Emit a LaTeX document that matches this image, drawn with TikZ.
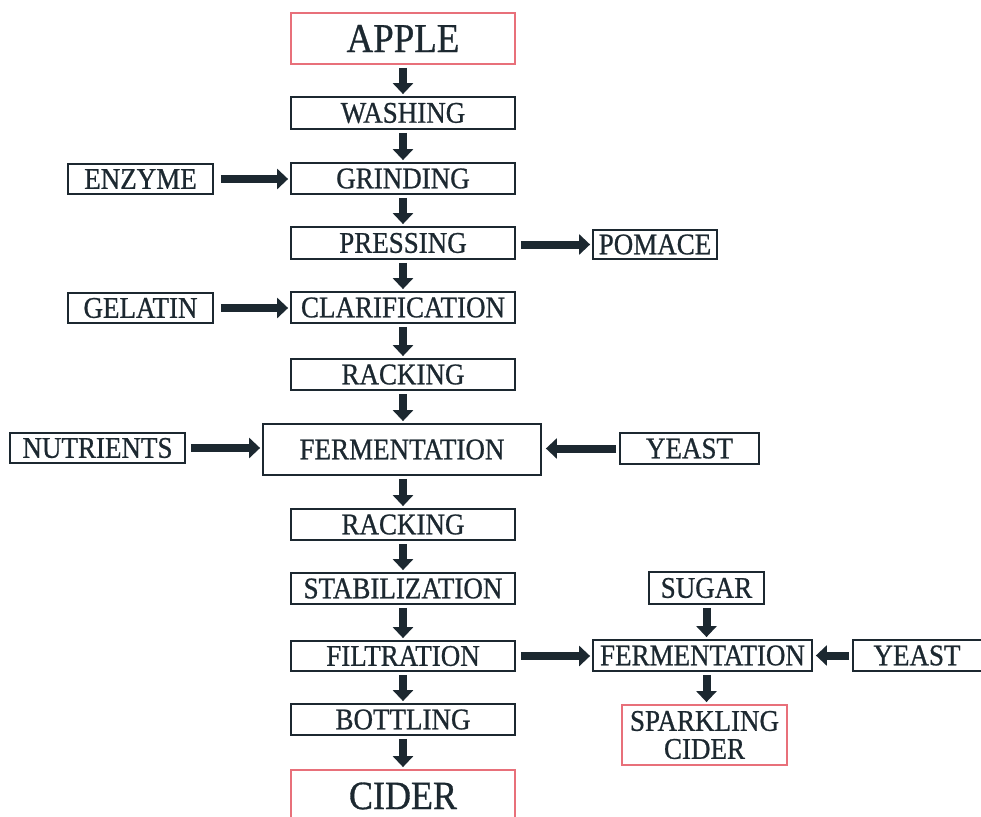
\documentclass[tikz,border=0pt]{standalone}
\usepackage{fontspec}
\setmainfont{Liberation Serif}[FakeStretch=0.9, FakeBold=0.8]
\usetikzlibrary{arrows.meta}
\definecolor{ink}{HTML}{1C2830}
\definecolor{redb}{HTML}{E8707A}
\tikzset{
  box/.style={draw=ink, line width=1.8pt, text=ink, inner sep=0pt, font=\fontsize{30}{32}\selectfont},
  redbox/.style={draw=redb, line width=1.8pt, text=ink, inner sep=0pt},
  arr/.style={draw=ink, line width=8pt, -{Triangle[width=20pt,length=11pt]}, shorten <=3pt, shorten >=2pt},
}
\newcommand{\bx}[6]{\node[#1, minimum width={#4-#2}, minimum height={#5-#3}] (#6) at ({(#2+#4)/2},{(#3+#5)/2})}
\begin{document}
\begin{tikzpicture}[x=1pt,y=-1pt]
\useasboundingbox (0,0) rectangle (981,816);
\begin{scope}
\clip (0,0) rectangle (981,816);
% main column
\bx{redbox}{291}{13}{515}{64}{apple} {\fontsize{41}{44}\selectfont APPLE};
\bx{box}{291}{97}{515}{129}{washing} {WASHING};
\bx{box}{291}{163}{515}{194}{grinding} {GRINDING};
\bx{box}{68}{164}{213}{194}{enzyme} {ENZYME};
\bx{box}{291}{227}{515}{259}{pressing} {PRESSING};
\bx{box}{593}{230}{717}{259}{pomace} {POMACE};
\bx{box}{68}{293}{213}{323}{gelatin} {GELATIN};
\bx{box}{291}{292}{515}{323}{clar} {CLARIFICATION};
\bx{box}{291}{359}{515}{390}{rack1} {RACKING};
\bx{box}{263}{424}{541}{475}{ferm} {FERMENTATION};
\bx{box}{10}{433}{185}{463}{nutr} {NUTRIENTS};
\bx{box}{620}{433}{759}{464}{yeast1} {YEAST};
\bx{box}{291}{509}{515}{540}{rack2} {RACKING};
\bx{box}{291}{573}{515}{604}{stab} {STABILIZATION};
\bx{box}{291}{641}{515}{671}{filt} {FILTRATION};
\bx{box}{291}{704}{515}{735}{bott} {BOTTLING};
\bx{redbox}{291}{770}{515}{830}{cider} {};
\node[text=ink, font=\fontsize{40}{44}\selectfont, anchor=base] (cidertext) at (403,809) {CIDER};
% right branch
\bx{box}{649}{572}{764}{604}{sugar} {SUGAR};
\bx{box}{593}{640}{812}{671}{ferm2} {FERMENTATION};
\bx{box}{853}{640}{995}{671}{yeast2} {\hspace*{-14pt}YEAST};
\bx{redbox}{622}{705}{787}{765}{spark} {};
\node[text=ink, align=center, font=\fontsize{30}{28}\selectfont] (sparktext) at (704.5,735) {SPARKLING\\CIDER};
% vertical arrows
\draw[arr] (apple.south) -- (apple.south |- washing.north);
\draw[arr] (washing.south) -- (washing.south |- grinding.north);
\draw[arr] (grinding.south) -- (grinding.south |- pressing.north);
\draw[arr] (pressing.south) -- (pressing.south |- clar.north);
\draw[arr] (clar.south) -- (clar.south |- rack1.north);
\draw[arr] (rack1.south) -- (rack1.south |- ferm.north);
\draw[arr] (rack1.south |- ferm.south) -- (rack1.south |- rack2.north);
\draw[arr] (rack2.south) -- (rack2.south |- stab.north);
\draw[arr] (stab.south) -- (stab.south |- filt.north);
\draw[arr] (filt.south) -- (filt.south |- bott.north);
\draw[arr] (bott.south) -- (bott.south |- cider.north);
\draw[arr] (sugar.south) -- (sugar.south |- ferm2.north);
\draw[arr] (sugar.south |- ferm2.south) -- (sugar.south |- spark.north);
% horizontal arrows
\draw[arr, shorten <=7pt] (enzyme.east) -- (enzyme.east -| grinding.west);
\draw[arr, shorten <=7pt] (gelatin.east) -- (gelatin.east -| clar.west);
\draw[arr, shorten <=5pt] (pressing.east |- pomace.west) -- (pomace.west);
\draw[arr, shorten <=5pt] (nutr.east) -- (nutr.east -| ferm.west);
\draw[arr, shorten <=3pt, shorten >=4pt] (yeast1.west) -- (yeast1.west -| ferm.east);
\draw[arr, shorten <=5pt] (filt.east) -- (filt.east -| ferm2.west);
\draw[arr, shorten <=3pt, shorten >=3pt] (yeast2.west) -- (ferm2.east);
\end{scope}
\end{tikzpicture}
\end{document}
